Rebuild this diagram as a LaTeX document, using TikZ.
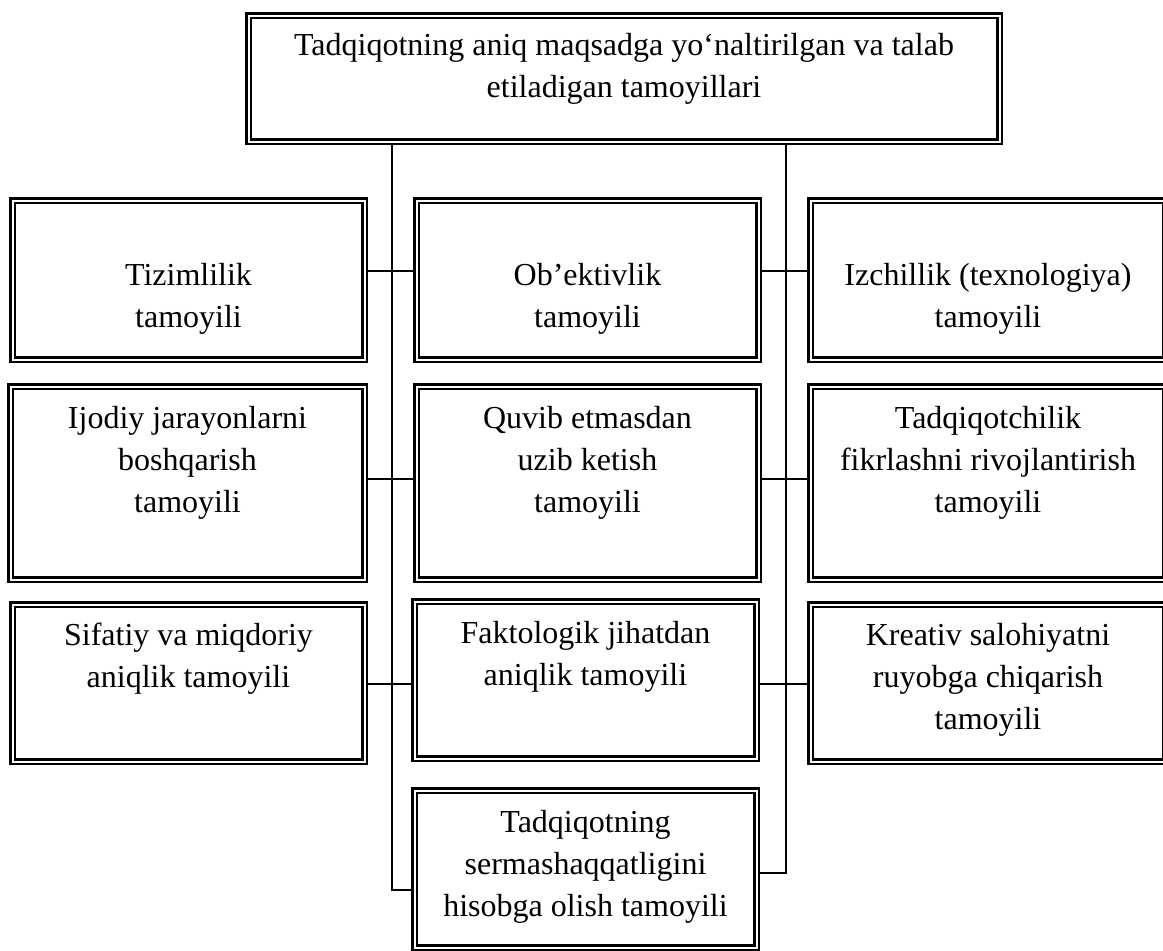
\documentclass[tikz,border=0pt]{standalone}
\usepackage{fontspec}
\setmainfont{Liberation Serif}
\usetikzlibrary{positioning}

\begin{document}
\begin{tikzpicture}[x=0.5pt,y=-0.5pt,
    tbox/.style={draw,double,line width=1.25pt,double distance=1pt,inner sep=0pt},
    lbox/.style={tbox,minimum width=176pt},
    mbox/.style={tbox,minimum width=171pt},
    rbox/.style={tbox,minimum width=177.5pt},
    txt/.style={align=center,inner sep=0pt,font=\fontsize{16pt}{21pt}\selectfont},
    link/.style={line width=0.8pt}]
    \useasboundingbox (0,0) rectangle (1163,950);

    % head box
    \node[tbox,minimum width=375.5pt,minimum height=63pt] (top) at (624,78.5) {};
    \node[txt,below=9.25pt of top.north] (top_t) {Tadqiqotning aniq maqsadga yo‘naltirilgan va talab\\etiladigan tamoyillari};

    % row 1
    \node[lbox,minimum height=79.5pt] (tiz) at (188.5,280) {};
    \node[mbox,minimum height=79.5pt] (obj) at (587.5,280) {};
    \node[rbox,minimum height=79.5pt] (izc) at (988,280) {};
    \node[txt,below=31.75pt of tiz.north] (tiz_t) {Tizimlilik\\tamoyili};
    \node[txt,below=31.75pt of obj.north] (obj_t) {Ob’ektivlik\\tamoyili};
    \node[txt,below=31.75pt of izc.north] (izc_t) {Izchillik (texnologiya)\\tamoyili};

    % row 2
    \node[lbox,minimum width=177pt,minimum height=96.5pt] (ijo) at (187.5,483) {};
    \node[mbox,minimum height=96.5pt] (quv) at (587.5,483) {};
    \node[rbox,minimum height=96.5pt] (tad) at (988,483) {};
    \node[txt,below=10.25pt of ijo.north] (ijo_t) {Ijodiy jarayonlarni\\boshqarish\\tamoyili};
    \node[txt,below=10.25pt of quv.north] (quv_t) {Quvib etmasdan\\uzib ketish\\tamoyili};
    \node[txt,below=10.25pt of tad.north] (tad_t) {Tadqiqotchilik\\fikrlashni rivojlantirish\\tamoyili};

    % row 3
    \node[lbox,minimum height=78.5pt] (sif) at (188.5,683) {};
    \node[mbox,minimum height=78.5pt] (fak) at (585.5,680) {};
    \node[rbox,minimum height=78.5pt] (kre) at (988,683) {};
    \node[txt,below=9.75pt of sif.north] (sif_t) {Sifatiy va miqdoriy\\aniqlik tamoyili};
    \node[txt,below=10.25pt of fak.north] (fak_t) {Faktologik jihatdan\\aniqlik tamoyili};
    \node[txt,below=9.75pt of kre.north] (kre_t) {Kreativ salohiyatni\\ruyobga chiqarish\\tamoyili};

    % last box
    \node[mbox,minimum height=78.5pt] (ser) at (585.5,869) {};
    \node[txt,below=10.25pt of ser.north] (ser_t) {Tadqiqotning\\sermashaqqatligini\\hisobga olish tamoyili};

    % trunks
    \coordinate (lbend) at (392,890);
    \coordinate (rbend) at (786,873);
    \draw[link] (top.south -| lbend) -- (lbend) -- (lbend -| ser.west);
    \draw[link] (top.south -| rbend) -- (rbend) -- (rbend -| ser.east);

    % branches
    \draw[link] ([yshift=4.5pt]tiz.east) -- ([yshift=4.5pt]tiz.east -| obj.west);
    \draw[link] ([yshift=4.5pt]obj.east) -- ([yshift=4.5pt]obj.east -| izc.west);
    \draw[link] ([yshift=2pt]ijo.east) -- ([yshift=2pt]ijo.east -| quv.west);
    \draw[link] ([yshift=2pt]quv.east) -- ([yshift=2pt]quv.east -| tad.west);
    \draw[link] ([yshift=-0.5pt]sif.east) -- ([yshift=-0.5pt]sif.east -| fak.west);
    \draw[link] ([yshift=-2pt]fak.east) -- ([yshift=-2pt]fak.east -| kre.west);
\end{tikzpicture}
\end{document}
